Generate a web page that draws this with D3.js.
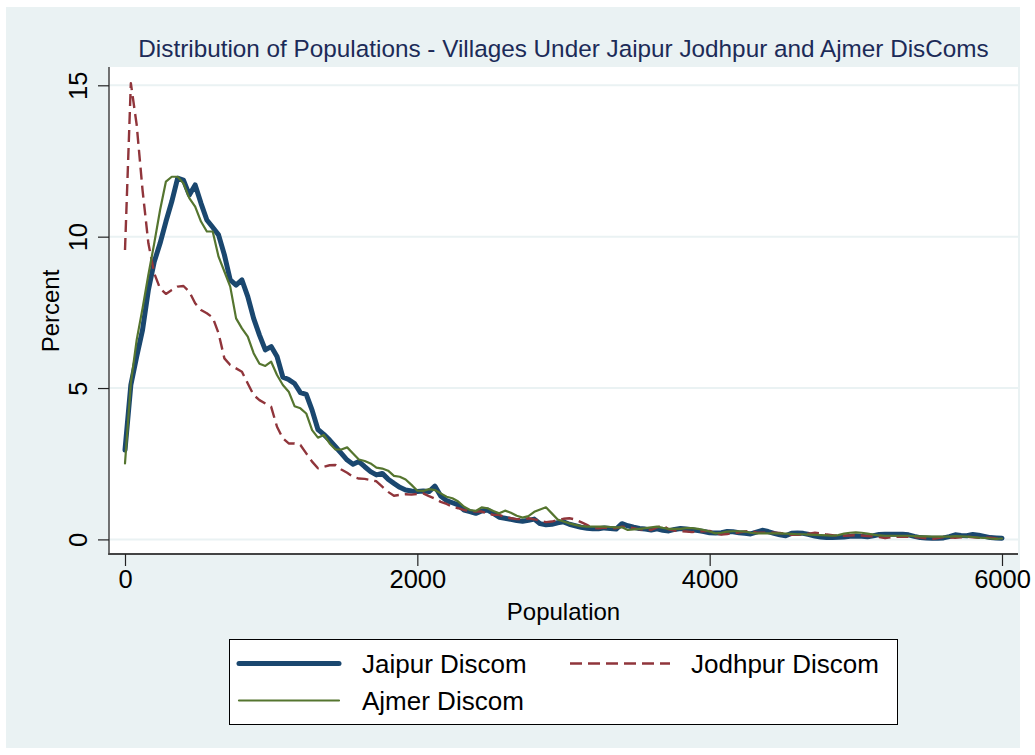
<!DOCTYPE html>
<html>
<head>
<meta charset="utf-8">
<script src="https://cdn.jsdelivr.net/npm/d3@7"></script>
<style>
  html, body { margin: 0; padding: 0; background: #ffffff; }
  svg { display: block; font-family: "Liberation Sans", Arial, sans-serif; }
</style>
</head>
<body>
<svg id="chart" width="1035" height="755"></svg>
<script>
// ---- Data ----
const population = [
  0,40,80,120,160,200,240,280,320,360,400,440,480,520,560,600,640,680,720,760,
  800,840,880,920,960,1000,1040,1080,1120,1160,1200,1240,1280,1320,1360,1400,1440,1480,1520,1560,
  1600,1640,1680,1720,1760,1800,1840,1880,1920,1960,2000,2040,2080,2120,2160,2200,2240,2280,2320,2360,
  2400,2440,2480,2520,2560,2600,2640,2680,2720,2760,2800,2840,2880,2920,2960,3000,3040,3080,3120,3160,
  3200,3240,3280,3320,3360,3400,3440,3480,3520,3560,3600,3640,3680,3720,3760,3800,3840,3880,3920,3960,
  4000,4040,4080,4120,4160,4200,4240,4280,4320,4360,4400,4440,4480,4520,4560,4600,4640,4680,4720,4760,
  4800,4840,4880,4920,4960,5000,5040,5080,5120,5160,5200,5240,5280,5320,5360,5400,5440,5480,5520,5560,
  5600,5640,5680,5720,5760,5800,5840,5880,5920,5960,6000
];

const jaipur = [
  2.95,5.10,6.04,6.92,8.24,9.17,9.78,10.5,11.16,11.93,11.87,11.38,11.71,11.1,10.55,10.31,10.06,9.4,8.57,8.40,
  8.57,8.02,7.30,6.75,6.26,6.37,6.04,5.36,5.28,5.15,4.85,4.79,4.27,3.63,3.47,3.28,3.06,2.84,2.62,2.48,
  2.57,2.40,2.24,2.13,2.18,1.99,1.85,1.72,1.63,1.60,1.58,1.60,1.58,1.76,1.43,1.28,1.21,1.14,0.97,0.92,
  0.86,0.94,0.97,0.86,0.73,0.70,0.66,0.62,0.60,0.63,0.67,0.52,0.48,0.50,0.55,0.58,0.50,0.45,0.40,0.37,
  0.35,0.35,0.38,0.36,0.34,0.52,0.45,0.40,0.36,0.34,0.31,0.35,0.30,0.28,0.33,0.36,0.34,0.32,0.29,0.26,
  0.22,0.21,0.22,0.26,0.25,0.22,0.20,0.18,0.24,0.30,0.26,0.20,0.15,0.12,0.20,0.21,0.20,0.16,0.11,0.08,
  0.06,0.06,0.07,0.08,0.10,0.11,0.10,0.09,0.12,0.16,0.17,0.17,0.17,0.17,0.15,0.10,0.06,0.05,0.04,0.04,
  0.05,0.09,0.15,0.13,0.12,0.16,0.14,0.10,0.06,0.05,0.04
];

const jodhpur = [
  9.56,15.07,13.69,11.54,9.78,8.79,8.29,8.11,8.24,8.35,8.37,8.18,7.80,7.58,7.47,7.33,6.81,5.98,5.76,5.65,
  5.54,5.15,4.77,4.60,4.49,4.38,3.72,3.34,3.17,3.17,3.12,2.84,2.57,2.35,2.40,2.45,2.46,2.31,2.20,2.07,
  2.01,2.00,1.96,1.92,1.74,1.57,1.44,1.47,1.49,1.48,1.50,1.52,1.43,1.35,1.24,1.17,1.08,1.03,0.97,0.94,
  0.92,0.92,0.86,0.81,0.81,0.73,0.70,0.67,0.67,0.70,0.66,0.62,0.57,0.59,0.64,0.68,0.70,0.66,0.57,0.48,
  0.38,0.37,0.39,0.38,0.37,0.42,0.40,0.37,0.33,0.32,0.31,0.40,0.46,0.33,0.29,0.27,0.26,0.24,0.26,0.27,
  0.28,0.20,0.16,0.18,0.21,0.23,0.26,0.28,0.23,0.22,0.22,0.22,0.21,0.19,0.15,0.15,0.16,0.19,0.22,0.20,
  0.16,0.14,0.12,0.12,0.13,0.14,0.13,0.11,0.10,0.08,0.04,0.07,0.09,0.09,0.09,0.08,0.06,0.04,0.01,0.04,
  0.08,0.06,0.05,0.07,0.09,0.07,0.05,0.05,0.06,0.03,0.02
];

const ajmer = [
  2.51,5.16,6.59,7.63,8.74,9.78,10.88,11.82,11.98,11.98,11.76,11.27,10.99,10.5,10.17,10.17,9.34,8.85,8.35,7.30,
  6.97,6.70,6.15,5.80,5.73,5.87,5.43,5.10,4.88,4.40,4.33,4.16,3.61,3.36,3.45,3.17,2.97,2.97,3.04,2.84,
  2.64,2.59,2.51,2.37,2.34,2.27,2.10,2.07,1.98,1.80,1.61,1.60,1.66,1.63,1.52,1.41,1.36,1.25,1.08,0.97,
  0.94,1.06,1.03,0.94,0.86,0.95,0.88,0.78,0.72,0.77,0.91,0.99,1.06,0.86,0.66,0.59,0.53,0.48,0.44,0.42,
  0.42,0.42,0.42,0.41,0.40,0.40,0.31,0.33,0.35,0.37,0.40,0.42,0.38,0.35,0.35,0.35,0.37,0.37,0.35,0.31,
  0.26,0.20,0.22,0.26,0.27,0.27,0.26,0.22,0.20,0.20,0.20,0.20,0.20,0.19,0.18,0.17,0.17,0.16,0.15,0.14,
  0.13,0.12,0.14,0.19,0.22,0.23,0.22,0.19,0.16,0.13,0.12,0.12,0.12,0.12,0.12,0.11,0.10,0.10,0.09,0.09,
  0.09,0.09,0.11,0.10,0.09,0.08,0.06,0.05,0.03,0.02,0.03
];

const seriesNames = ["Jaipur Discom", "Jodhpur Discom", "Ajmer Discom"];
const yTickValues = [0, 5, 10, 15];
const xTickValues = [0, 2000, 4000, 6000];
const titleText = "Distribution of Populations - Villages Under Jaipur Jodhpur and Ajmer DisComs";
const xTitle = "Population";
const yTitle = "Percent";

// ---- Drawing ----
const svg = d3.select("#chart");
const W = 1035, H = 755;

const plot = { left: 109, right: 1018, top: 67, bottom: 554 };
const x = d3.scaleLinear().domain([0, 6000]).range([125, 1002]);
const y = d3.scaleLinear().domain([0, 15]).range([539.4, 85.3]);

svg.append("rect").attr("width", W).attr("height", H).attr("fill", "#ffffff");
svg.append("rect").attr("x", 6).attr("y", 7).attr("width", 1014).attr("height", 741).attr("fill", "#eaf2f3");
svg.append("rect")
  .attr("x", plot.left).attr("y", plot.top)
  .attr("width", plot.right - plot.left).attr("height", plot.bottom - plot.top)
  .attr("fill", "#ffffff");

// gridlines
svg.append("g").selectAll("line").data(yTickValues).join("line")
  .attr("x1", plot.left).attr("x2", plot.right)
  .attr("y1", d => y(d)).attr("y2", d => y(d))
  .attr("stroke", "#eaf2f3").attr("stroke-width", 2);

// series
const styles = [
  { data: jaipur,  color: "#1a476f", width: 5,   dash: null },
  { data: jodhpur, color: "#90353b", width: 2.4, dash: "12,6" },
  { data: ajmer,   color: "#55752f", width: 2.2, dash: null }
];
const line = d3.line().x((d, i) => x(population[i])).y(d => y(d));
styles.forEach(s => {
  svg.append("path")
    .datum(s.data)
    .attr("d", line)
    .attr("fill", "none")
    .attr("stroke", s.color)
    .attr("stroke-width", s.width)
    .attr("stroke-linejoin", "round")
    .attr("stroke-linecap", s.dash ? "butt" : "round")
    .attr("stroke-dasharray", s.dash);
});

// axis lines
svg.append("line").attr("x1", plot.left).attr("x2", plot.left)
  .attr("y1", plot.top).attr("y2", plot.bottom + 1)
  .attr("stroke", "#444").attr("stroke-width", 1.5);
svg.append("line").attr("x1", plot.left - 0.75).attr("x2", plot.right)
  .attr("y1", plot.bottom).attr("y2", plot.bottom)
  .attr("stroke", "#444").attr("stroke-width", 2);

// y axis
const yAxis = svg.append("g").attr("transform", `translate(${plot.left},0)`)
  .call(d3.axisLeft(y).tickValues(yTickValues).tickSize(11).tickSizeOuter(0).tickFormat(d3.format("d")));
yAxis.select(".domain").remove();
yAxis.selectAll(".tick line").attr("stroke", "#222").attr("stroke-width", 1.2);
yAxis.selectAll(".tick text")
  .attr("x", 0).attr("y", -22).attr("dy", 0)
  .attr("text-anchor", "middle")
  .attr("transform", "rotate(-90)")
  .attr("font-size", 25.5).attr("fill", "#000")
  .attr("font-family", "Liberation Sans, Arial, sans-serif");

// x axis
const xAxis = svg.append("g").attr("transform", `translate(0,${plot.bottom})`)
  .call(d3.axisBottom(x).tickValues(xTickValues).tickSize(12).tickSizeOuter(0).tickFormat(d3.format("d")));
xAxis.select(".domain").remove();
xAxis.selectAll(".tick line").attr("stroke", "#222").attr("stroke-width", 1.2);
xAxis.selectAll(".tick text")
  .attr("y", 34).attr("dy", 0)
  .attr("font-size", 25.5).attr("fill", "#000")
  .attr("font-family", "Liberation Sans, Arial, sans-serif");

// titles
svg.append("text").attr("x", 563.5).attr("y", 57)
  .attr("text-anchor", "middle").attr("font-size", 24.3).attr("fill", "#1c2b58")
  .text(titleText);
svg.append("text").attr("x", 563.5).attr("y", 620)
  .attr("text-anchor", "middle").attr("font-size", 24).attr("fill", "#000")
  .text(xTitle);
svg.append("text").attr("transform", "translate(59,311) rotate(-90)")
  .attr("text-anchor", "middle").attr("font-size", 24).attr("fill", "#000")
  .text(yTitle);

// legend
svg.append("rect").attr("x", 229.5).attr("y", 639.5).attr("width", 668).attr("height", 85)
  .attr("fill", "#ffffff").attr("stroke", "#000").attr("stroke-width", 1);
const legendPos = [
  { lx: 239, ly: 663.5, tx: 362 },
  { lx: 570, ly: 663.5, tx: 691 },
  { lx: 239, ly: 700.5, tx: 362 }
];
seriesNames.forEach((name, i) => {
  const s = styles[i], p = legendPos[i];
  svg.append("line")
    .attr("x1", p.lx).attr("x2", p.lx + 100).attr("y1", p.ly).attr("y2", p.ly)
    .attr("stroke", s.color).attr("stroke-width", s.width)
    .attr("stroke-linecap", s.dash ? "butt" : "round")
    .attr("stroke-dasharray", s.dash);
  svg.append("text").attr("x", p.tx).attr("y", p.ly + 9.5)
    .attr("font-size", 26).attr("fill", "#000").text(name);
});
</script>
</body>
</html>
